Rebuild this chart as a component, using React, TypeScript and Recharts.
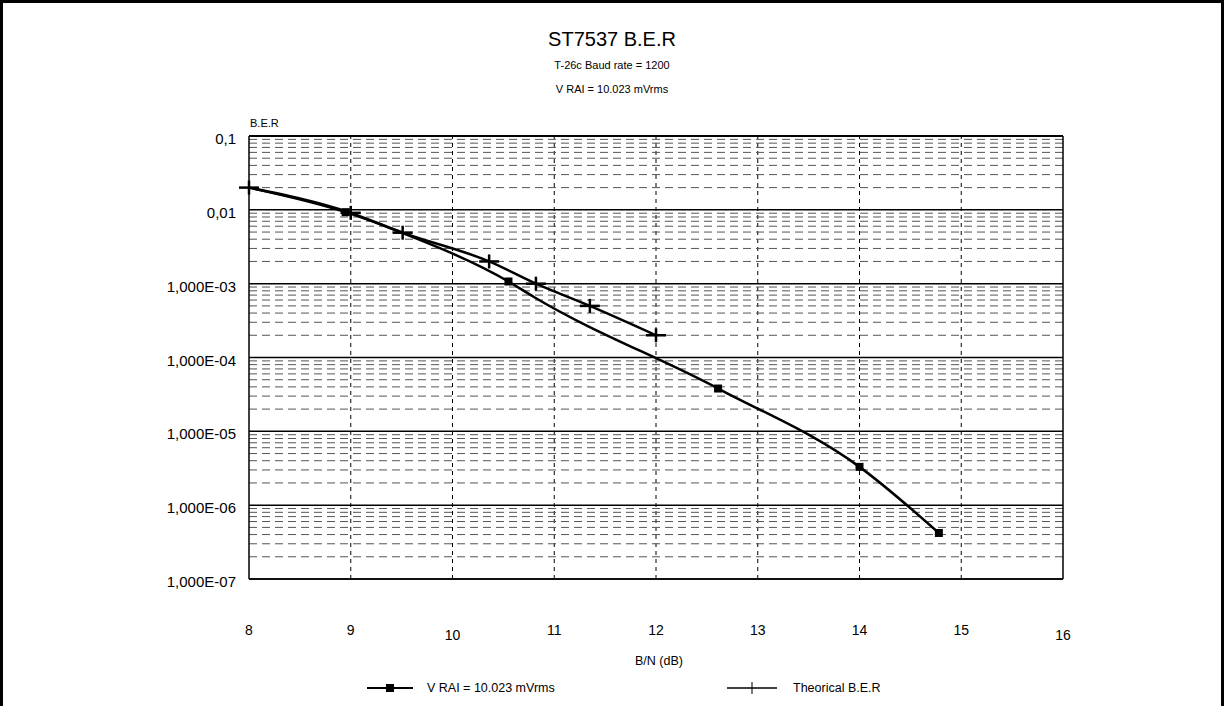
import * as React from 'react';
import { LineChart, Line, XAxis, YAxis, CartesianGrid, ReferenceLine } from 'recharts';

// B/N (dB) and measured bit error rate, V RAI = 10.023 mVrms
const vraiX = [8, 8.95, 9.5, 10.55, 10.8, 12.61, 14.0, 14.78];
const vraiBer = [0.02, 0.0093, 0.0049, 0.00107, 0.00066, 3.8e-5, 3.3e-6, 4.2e-7];
const vraiMarked = [false, true, false, true, false, true, true, true];

// theoretical curve
const theoX = [8, 9.0, 9.51, 10.36, 10.82, 11.35, 12.0];
const theoBer = [0.02, 0.0091, 0.0049, 0.002, 0.001, 0.0005, 0.0002];

const xTicks = [8, 9, 10, 11, 12, 13, 14, 15, 16];
const yDecades = [0.1, 0.01, 0.001, 1e-4, 1e-5, 1e-6, 1e-7];
const yTickLabels = ['0,1', '0,01', '1,000E-03', '1,000E-04', '1,000E-05', '1,000E-06', '1,000E-07'];
const minorMultipliers = [2, 3, 4, 5, 6, 7, 8, 9];

const seriesNames = ['V RAI = 10.023 mVrms', 'Theorical B.E.R'];

const FONT = '"Liberation Sans", Arial, sans-serif';

const vraiData = vraiX.map((x, i) => ({ x, ber: vraiBer[i], marked: vraiMarked[i] }));
const theoData = theoX.map((x, i) => ({ x, ber: theoBer[i] }));

const minorLines = yDecades
  .slice(1)
  .flatMap((d) => minorMultipliers.map((m) => +(d * m).toPrecision(3)));

const SquareDot = (props: any) => {
  const { cx, cy, payload } = props;
  if (!payload || !payload.marked) return <g />;
  return <rect x={cx - 4} y={cy - 4} width={8} height={8} fill='#000' />;
};

const PlusDot = (props: any) => {
  const { cx, cy } = props;
  return (
    <g>
      <line x1={cx - 10} x2={cx + 10} y1={cy} y2={cy} stroke='#000' strokeWidth={2.5} />
      <line x1={cx} x2={cx} y1={cy - 7} y2={cy + 7} stroke='#000' strokeWidth={2.5} />
    </g>
  );
};

const XTick = (props: any) => {
  const { x, y, payload } = props;
  const lower = payload.value === 10 || payload.value === 16 ? 5 : 0;
  return (
    <text x={x} y={y + 48 + lower} textAnchor='middle' fontSize={14} fontFamily={FONT} fill='#000'>
      {payload.value}
    </text>
  );
};

const YTick = (props: any) => {
  const { x, y, payload } = props;
  const i = yDecades.indexOf(payload.value);
  return (
    <text x={x} y={y + 8} textAnchor='end' fontSize={15} fontFamily={FONT} fill='#000'>
      {i >= 0 ? yTickLabels[i] : ''}
    </text>
  );
};

export default function App() {
  return (
    <div
      style={{
        position: 'absolute',
        left: 0,
        top: 0,
        width: 1224,
        height: 706,
        boxSizing: 'border-box',
        borderTop: '3px solid #000',
        borderLeft: '3px solid #000',
        borderRight: '3px solid #000',
        fontFamily: FONT,
        background: '#fff',
      }}
    >
      <div style={{ position: 'absolute', left: -3, top: 0, width: 1224, textAlign: 'center' }}>
        <div style={{ position: 'absolute', top: 25, width: '100%', fontSize: 20 }}>ST7537 B.E.R</div>
        <div style={{ position: 'absolute', top: 56, width: '100%', fontSize: 11 }}>T-26c Baud rate = 1200</div>
        <div style={{ position: 'absolute', top: 80, width: '100%', fontSize: 11 }}>V RAI = 10.023 mVrms</div>
      </div>
      <div style={{ position: 'absolute', left: 247, top: 114, fontSize: 11 }}>B.E.R</div>

      <div style={{ position: 'absolute', left: -3, top: -3 }}>
        <LineChart
          width={1224}
          height={706}
          margin={{ top: 136, right: 161, bottom: 67, left: 149 }}
        >
          <CartesianGrid horizontal vertical={false} stroke='#000' strokeWidth={1.5} />
          {xTicks.slice(1, -1).map((v) => (
            <ReferenceLine key={'v' + v} x={v} stroke='#000' strokeWidth={1} strokeDasharray='4 4' />
          ))}
          {minorLines.map((v) => (
            <ReferenceLine key={'h' + v} y={v} stroke='#555' strokeWidth={1} strokeDasharray='8 5' />
          ))}
          <ReferenceLine x={16} stroke='#000' strokeWidth={1.5} />
          <ReferenceLine y={0.1} stroke='#000' strokeWidth={2} />
          <XAxis
            type='number'
            dataKey='x'
            domain={[8, 16]}
            ticks={xTicks}
            interval={0}
            height={60}
            tickLine={false}
            axisLine={{ stroke: '#000', strokeWidth: 1.5 }}
            tick={<XTick />}
          />
          <YAxis
            type='number'
            dataKey='ber'
            scale='log'
            domain={[1e-7, 0.1]}
            ticks={yDecades}
            interval={0}
            width={100}
            tickLine={false}
            tickSize={0}
            tickMargin={13}
            axisLine={{ stroke: '#000', strokeWidth: 1.5 }}
            tick={<YTick />}
          />
          <Line
            data={vraiData}
            dataKey='ber'
            name={seriesNames[0]}
            type='monotone'
            stroke='#000'
            strokeWidth={2.5}
            dot={<SquareDot />}
            activeDot={false}
            isAnimationActive={false}
          />
          <Line
            data={theoData}
            dataKey='ber'
            name={seriesNames[1]}
            type='monotone'
            stroke='#000'
            strokeWidth={2.5}
            dot={<PlusDot />}
            activeDot={false}
            isAnimationActive={false}
          />
        </LineChart>
      </div>

      <div style={{ position: 'absolute', left: 0, top: 651, width: 1312, textAlign: 'center', fontSize: 12.5 }}>
        B/N (dB)
      </div>

      <div style={{ position: 'absolute', left: 362, top: 678, display: 'flex', alignItems: 'center', fontSize: 12.5 }}>
        <svg width={50} height={12}>
          <line x1={2} x2={48} y1={6} y2={6} stroke='#000' strokeWidth={2} />
          <rect x={21} y={2} width={8} height={8} fill='#000' />
        </svg>
        <span style={{ marginLeft: 12 }}>{seriesNames[0]}</span>
      </div>
      <div style={{ position: 'absolute', left: 722, top: 678, display: 'flex', alignItems: 'center', fontSize: 12.5 }}>
        <svg width={56} height={14}>
          <line x1={2} x2={52} y1={7} y2={7} stroke='#000' strokeWidth={1.5} />
          <line x1={27} x2={27} y1={1} y2={13} stroke='#000' strokeWidth={1} />
        </svg>
        <span style={{ marginLeft: 12 }}>{seriesNames[1]}</span>
      </div>
    </div>
  );
}
